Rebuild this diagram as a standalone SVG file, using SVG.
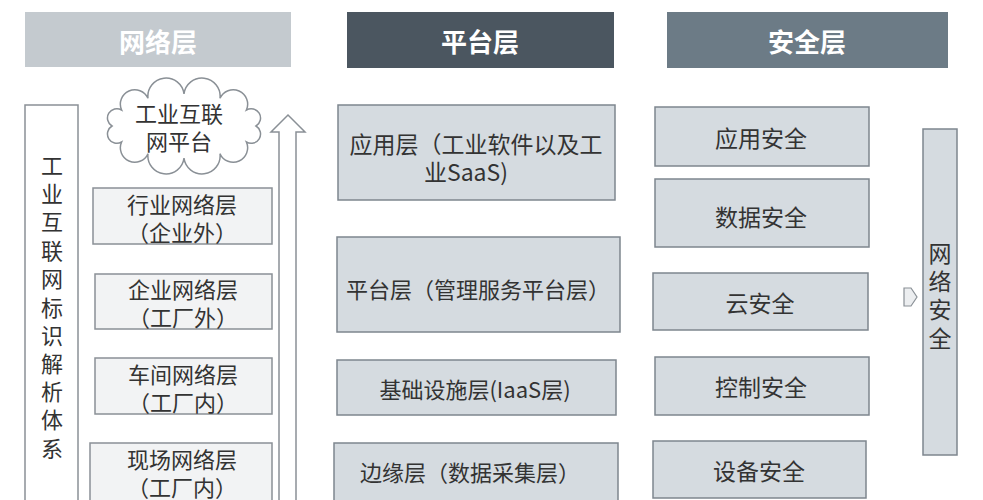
<svg xmlns="http://www.w3.org/2000/svg" width="983" height="500" viewBox="0 0 983 500">
<style>
text{font-family:"Noto Sans CJK SC","Noto Sans",sans-serif;fill:#333;text-anchor:middle;dominant-baseline:central}
.hd{font-size:26px;font-weight:bold;fill:#fff}
.t{font-size:22px}
.ts{font-size:23px}
.mid{fill:#d5dbe0;stroke:#7e868e;stroke-width:1.5}
.lft{fill:#f2f3f4;stroke:#8a9096;stroke-width:1.5}
.ln{fill:#fff;stroke:#8a9096;stroke-width:1.5}
</style>
<rect width="983" height="500" fill="#fff"/>
<g id="hdr-net"><rect x="25" y="12" width="266" height="55" fill="#c4cacf"/><text class="hd" x="158" y="40">网络层</text></g>
<g id="hdr-plat"><rect x="347" y="12" width="267" height="56" fill="#4b5660"/><text class="hd" x="480" y="40">平台层</text></g>
<g id="hdr-sec"><rect x="667" y="12" width="281" height="56" fill="#6c7b86"/><text class="hd" x="807" y="40">安全层</text></g>

<g id="ident"><rect class="ln" x="25" y="105" width="53" height="400"/>
<text class="t" x="52" y="164">工</text><text class="t" x="52" y="192">业</text><text class="t" x="52" y="220">互</text><text class="t" x="52" y="249">联</text><text class="t" x="52" y="277">网</text><text class="t" x="52" y="306">标</text><text class="t" x="52" y="334">识</text><text class="t" x="52" y="362">解</text><text class="t" x="52" y="390">析</text><text class="t" x="52" y="418">体</text><text class="t" x="52" y="447">系</text></g>

<g id="cloud"><path class="ln" d="M256 126 A1 1 0 0 1 246.4 142 A1 1 0 0 1 220 153.7 A1 1 0 0 1 184 158 A1 1 0 0 1 148 153.7 A1 1 0 0 1 121.6 142 A1 1 0 0 1 112 126 A1 1 0 0 1 121.6 110 A1 1 0 0 1 148 98.3 A1 1 0 0 1 184 94 A1 1 0 0 1 220 98.3 A1 1 0 0 1 246.4 110 A1 1 0 0 1 256 126 Z"/>
<text class="t" x="179" y="112">工业互联</text><text class="t" x="179" y="140">网平台</text></g>

<g id="connectors">
<polygon points="279,505 279,132 271,132 288,115 305,132 296,132 296,505" fill="#fff" stroke="#8a9096" stroke-width="1.5"/>
<polygon points="904,288 911,288 917,297 911,306 904,306" fill="#eceef0" stroke="#8a9096" stroke-width="1.2"/>
</g>

<g id="n-hangye"><rect class="lft" x="93" y="188" width="179" height="56"/><text class="t" x="182" y="203">行业网络层</text><text class="t" x="182" y="231">（企业外）</text></g>
<g id="n-qiye"><rect class="lft" x="95" y="274" width="177" height="55"/><text class="t" x="183" y="288">企业网络层</text><text class="t" x="183" y="316">（工厂外）</text></g>
<g id="n-chejian"><rect class="lft" x="95" y="358" width="177" height="56"/><text class="t" x="183" y="373">车间网络层</text><text class="t" x="183" y="401">（工厂内）</text></g>
<g id="n-xianchang"><rect class="lft" x="90" y="443" width="182" height="62"/><text class="t" x="182" y="458">现场网络层</text><text class="t" x="182" y="486">（工厂内）</text></g>

<g id="n-app"><rect class="mid" x="338" y="105" width="277" height="95"/><text class="ts" x="476" y="143">应用层（工业软件以及工</text><text class="ts" x="466" y="171">业SaaS)</text></g>
<g id="n-platform"><rect class="mid" x="337" y="237" width="283" height="95"/><text class="t" x="478" y="288">平台层（管理服务平台层）</text></g>
<g id="n-iaas"><rect class="mid" x="337" y="360" width="279" height="55"/><text class="t" x="475" y="388">基础设施层(IaaS层)</text></g>
<g id="n-edge"><rect class="mid" x="334" y="443" width="284" height="62"/><text class="t" x="470" y="471">边缘层（数据采集层）</text></g>

<g id="s-app"><rect class="mid" x="655" y="107" width="214" height="59"/><text class="ts" x="761" y="137">应用安全</text></g>
<g id="s-data"><rect class="mid" x="655" y="179" width="214" height="68"/><text class="ts" x="761" y="216">数据安全</text></g>
<g id="s-cloud"><rect class="mid" x="653" y="273" width="215" height="57"/><text class="ts" x="760" y="302">云安全</text></g>
<g id="s-ctrl"><rect class="mid" x="655" y="357" width="214" height="58"/><text class="ts" x="761" y="386">控制安全</text></g>
<g id="s-dev"><rect class="mid" x="653" y="441" width="213" height="57"/><text class="ts" x="759" y="470">设备安全</text></g>

<g id="s-net"><rect class="mid" x="923" y="129" width="34" height="326"/>
<text class="ts" x="940" y="252">网</text><text class="ts" x="940" y="280">络</text><text class="ts" x="940" y="308">安</text><text class="ts" x="940" y="337">全</text></g>
</svg>
